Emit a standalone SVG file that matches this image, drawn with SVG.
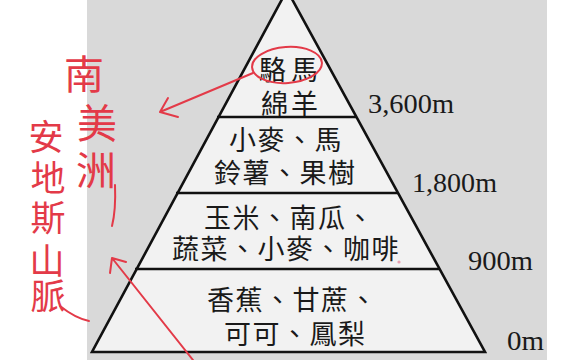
<svg xmlns="http://www.w3.org/2000/svg" width="572" height="360" viewBox="0 0 572 360">
<style>
.bg{fill:#d9d9d9}
.tri{fill:#f2f2f2}
.edge{fill:none;stroke:#111;stroke-width:2.6;stroke-linejoin:miter}
.sep{stroke:#111;stroke-width:2.6}
.zh{font-family:"Noto Sans CJK TC","Noto Sans CJK SC",sans-serif;font-size:27px;fill:#1a1a1a;letter-spacing:1.5px;dominant-baseline:central}
.num{font-family:"Liberation Serif","Times New Roman",serif;font-size:27px;fill:#1a1a1a}
.red{fill:none;stroke:#e33a48;stroke-width:2;stroke-linecap:round;stroke-linejoin:round}
.hand{font-family:"Noto Sans CJK TC","Noto Sans CJK SC",sans-serif;fill:#e33a48;writing-mode:vertical-rl;dominant-baseline:central}
</style>
<rect x="0" y="0" width="572" height="360" fill="#ffffff"/>
<rect class="bg" x="87" y="0" width="460" height="360"/>
<polygon class="tri" points="287,-10 92,352 485,352"/>

<g id="layer-top">
<text class="zh"><tspan x="259" y="68" style="letter-spacing:5px">駱馬</tspan><tspan x="261" y="102" style="letter-spacing:3px">綿羊</tspan></text>
</g>
<g id="layer-2">
<text class="zh"><tspan x="229" y="138">小麥、馬</tspan><tspan x="214" y="171">鈴薯、果樹</tspan></text>
</g>
<g id="layer-3">
<text class="zh"><tspan x="204" y="216">玉米、南瓜、</tspan><tspan x="172" y="247">蔬菜、小麥、咖啡</tspan></text>
</g>
<g id="layer-4">
<text class="zh"><tspan x="207" y="298">香蕉、甘蔗、</tspan><tspan x="224" y="332">可可、鳳梨</tspan></text>
</g>

<g id="pyramid">
<polygon class="edge" points="287,-10 92,352 485,352"/>
<line class="sep" x1="217" y1="117" x2="357" y2="117"/>
<line class="sep" x1="176" y1="193" x2="398" y2="193"/>
<line class="sep" x1="135" y1="269" x2="440" y2="269"/>
</g>

<g id="altitudes">
<text class="num" x="368" y="113" textLength="86" lengthAdjust="spacingAndGlyphs">3,600m</text>
<text class="num" x="412" y="192" textLength="85" lengthAdjust="spacingAndGlyphs">1,800m</text>
<text class="num" x="468" y="270" textLength="65" lengthAdjust="spacingAndGlyphs">900m</text>
<text class="num" x="507" y="350" textLength="37" lengthAdjust="spacingAndGlyphs">0m</text>
</g>

<g id="note-south-america">
<text class="hand" font-size="40" x="84 97 96" y="54 103 150">南美洲</text>
<path class="red" d="M115,185 Q116,210 112,226"/>
</g>
<g id="note-andes">
<text class="hand" font-size="35" x="46 48 48 47 48" y="119 160 200 243 278">安地斯山脈</text>
<path class="red" d="M60,306 Q75,318 89,321"/>
</g>

<g id="connectors">
<ellipse class="red" cx="287" cy="65" rx="35" ry="18" transform="rotate(-4 287 65)"/>
<path class="red" d="M253,73 L160,112 M160,112 L168,98 M160,112 L178,117"/>
<path class="red" d="M193,360 L112,258 M112,258 L110,273 M112,258 L126,262"/>
<circle cx="399" cy="262" r="1.6" fill="#e8a0b0"/>
</g>
</svg>
